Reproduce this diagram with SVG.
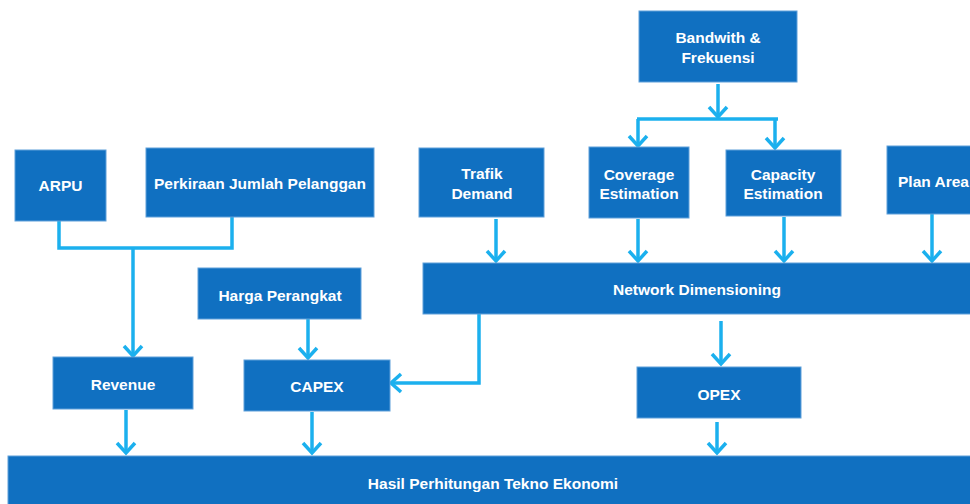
<svg xmlns="http://www.w3.org/2000/svg" width="970" height="504" viewBox="0 0 970 504">
<defs>
<style>
.box{fill:#1070C1;stroke:#5FA0DA;stroke-width:1}
.t{fill:#FFFFFF;font-family:"Liberation Sans",Arial,sans-serif;font-weight:bold;font-size:15.5px;text-anchor:middle}
.c{fill:none;stroke:#1BB0EE;stroke-width:3.5}
.a{marker-end:url(#ah)}
</style>
<marker id="ah" markerUnits="userSpaceOnUse" markerWidth="24" markerHeight="24" viewBox="-14 -12 16 24" refX="-1" refY="0" orient="auto">
<path d="M-11,-9 L-1,0 L-11,9" fill="none" stroke="#1BB0EE" stroke-width="3.5" stroke-linejoin="miter"/>
</marker>
</defs>
<rect width="970" height="504" fill="#FFFFFF"/>
<g id="connectors">
<path class="c" d="M59,221 V248 H232 V217"/>
<path class="c a" d="M133,248 V356"/>
<path class="c a" d="M718,84 V117"/>
<path class="c" d="M637,119 H778"/>
<path class="c a" d="M638,119 V146"/>
<path class="c a" d="M775,119 V148"/>
<path class="c a" d="M496,219 V261"/>
<path class="c a" d="M638,219 V261"/>
<path class="c a" d="M784,217 V261"/>
<path class="c a" d="M932,214 V261"/>
<path class="c a" d="M308,319 V358"/>
<path class="c a" d="M479,314 V383 H391"/>
<path class="c a" d="M721,321 V364"/>
<path class="c a" d="M126,410 V453"/>
<path class="c a" d="M312,412 V453"/>
<path class="c a" d="M717,422 V453"/>
</g>
<g id="arpu"><rect class="box" x="15" y="150" width="91" height="71"/><text class="t" x="60.5" y="191">ARPU</text></g>
<g id="perkiraan"><rect class="box" x="146" y="148" width="228" height="69"/><text class="t" x="260" y="189">Perkiraan Jumlah Pelanggan</text></g>
<g id="bandwith"><rect class="box" x="639" y="11" width="158" height="71"/><text class="t" x="718" y="43">Bandwith &amp;</text><text class="t" x="718" y="63">Frekuensi</text></g>
<g id="trafik"><rect class="box" x="419" y="148" width="125" height="69"/><text class="t" x="482" y="179">Trafik</text><text class="t" x="482" y="199">Demand</text></g>
<g id="coverage"><rect class="box" x="589" y="147" width="100" height="71"/><text class="t" x="639" y="180">Coverage</text><text class="t" x="639" y="199">Estimation</text></g>
<g id="capacity"><rect class="box" x="726" y="150" width="115" height="66"/><text class="t" x="783" y="180">Capacity</text><text class="t" x="783" y="199">Estimation</text></g>
<g id="planarea"><rect class="box" x="887" y="146" width="95" height="68"/><text class="t" x="898" y="187" style="text-anchor:start">Plan Area</text></g>
<g id="network"><rect class="box" x="423" y="263" width="560" height="51"/><text class="t" x="697" y="295">Network Dimensioning</text></g>
<g id="harga"><rect class="box" x="198" y="268" width="163" height="51"/><text class="t" x="280" y="301">Harga Perangkat</text></g>
<g id="revenue"><rect class="box" x="53" y="357" width="140" height="52"/><text class="t" x="123" y="390">Revenue</text></g>
<g id="capex"><rect class="box" x="244" y="360" width="146" height="51"/><text class="t" x="317" y="392">CAPEX</text></g>
<g id="opex"><rect class="box" x="637" y="367" width="164" height="51"/><text class="t" x="719" y="400">OPEX</text></g>
<g id="hasil"><rect class="box" x="8" y="456" width="975" height="60"/><text class="t" x="493" y="489">Hasil Perhitungan Tekno Ekonomi</text></g>
</svg>
